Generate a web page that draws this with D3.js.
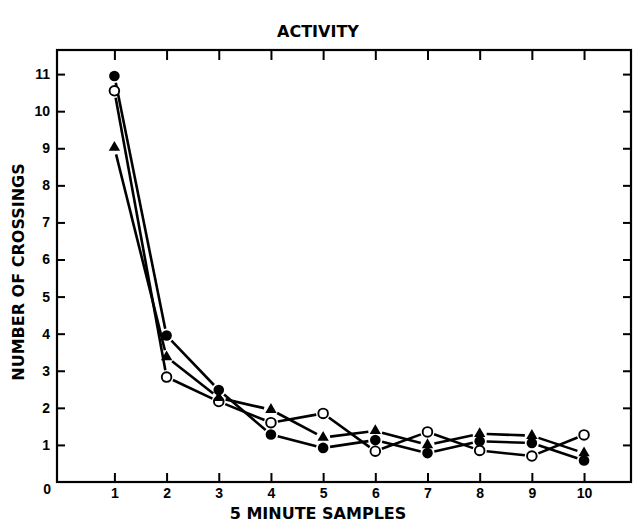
<!DOCTYPE html>
<html><head><meta charset="utf-8">
<script src="https://cdn.jsdelivr.net/npm/d3@7"></script>
<style>body{margin:0;background:#fff}svg{display:block}</style>
</head><body>
<script>
const samples = [1,2,3,4,5,6,7,8,9,10];
const filledCircle = [10.95, 3.95, 2.48, 1.28, 0.92, 1.13, 0.78, 1.1, 1.05, 0.58];
const openCircle   = [10.55, 2.83, 2.17, 1.6, 1.85, 0.83, 1.35, 0.85, 0.7, 1.27];
const triangle     = [9.02, 3.37, 2.27, 1.95, 1.2, 1.38, 1.0, 1.3, 1.25, 0.78];
const yTicks = [0,1,2,3,4,5,6,7,8,9,10,11];
const xTicks = [1,2,3,4,5,6,7,8,9,10];

const W = 634, H = 524;
const L = 57, R = 631, T = 50, B = 482;
const svg = d3.select("body").append("svg").attr("width", W).attr("height", H);
const x = d3.scaleLinear().domain([-0.1, 10.9]).range([L, R]);
const y = d3.scaleLinear().domain([0, 11.65]).range([B, T]);
const font = "'Liberation Sans', Arial, sans-serif";
const labelFont = "'DejaVu Sans', sans-serif";

// frame
svg.append("rect").attr("x", L).attr("y", T).attr("width", R - L).attr("height", B - T)
  .attr("fill", "none").attr("stroke", "#000").attr("stroke-width", 2.2);

// axes
const gx = svg.append("g").attr("transform", `translate(0,${B})`)
  .call(d3.axisBottom(x).tickValues(xTicks).tickSizeInner(-9).tickSizeOuter(0).tickPadding(6));
const gxt = svg.append("g").attr("transform", `translate(0,${T})`)
  .call(d3.axisTop(x).tickValues(xTicks).tickSizeInner(-10).tickSizeOuter(0).tickFormat(""));
const gy = svg.append("g").attr("transform", `translate(${L},0)`)
  .call(d3.axisLeft(y).tickValues(yTicks.filter(d => d > 0)).tickSizeInner(-8).tickSizeOuter(0).tickPadding(7));
const gyr = svg.append("g").attr("transform", `translate(${R},0)`)
  .call(d3.axisRight(y).tickValues(yTicks.filter(d => d > 0)).tickSizeInner(-8).tickSizeOuter(0).tickFormat(""));
[gx, gxt, gy, gyr].forEach(g => {
  g.select(".domain").remove();
  g.selectAll(".tick line").attr("stroke", "#000").attr("stroke-width", 2);
  g.selectAll("text").attr("font-family", font).attr("font-weight", "bold").attr("font-size", 14).attr("fill", "#000");
});
// zero label
svg.append("text").attr("x", L - 6).attr("y", y(0) + 12).attr("text-anchor", "end")
  .attr("font-family", font).attr("font-weight", "bold").attr("font-size", 14).text(yTicks[0]);

// titles
svg.append("text").attr("x", 318).attr("y", 37).attr("text-anchor", "middle")
  .attr("font-family", labelFont).attr("font-weight", "bold").attr("font-size", 16).text("ACTIVITY");
svg.append("text").attr("x", 318).attr("y", 519).attr("text-anchor", "middle")
  .attr("font-family", labelFont).attr("font-weight", "bold").attr("font-size", 16).text("5 MINUTE SAMPLES");
svg.append("text").attr("transform", `translate(24,272) rotate(-90)`).attr("text-anchor", "middle")
  .attr("font-family", labelFont).attr("font-weight", "bold").attr("font-size", 16).text("NUMBER OF CROSSINGS");

// series
const series = [
  {vals: filledCircle, type: "fc"},
  {vals: openCircle, type: "oc"},
  {vals: triangle, type: "tr"}
];
const gap = 7;
series.forEach(s => {
  const pts = samples.map((d, i) => [x(d), y(s.vals[i])]);
  const segs = d3.pairs(pts).map(([a, b]) => {
    const dx = b[0] - a[0], dy = b[1] - a[1], len = Math.hypot(dx, dy);
    const ux = dx / len, uy = dy / len;
    return [a[0] + ux * gap, a[1] + uy * gap, b[0] - ux * gap, b[1] - uy * gap];
  });
  svg.append("g").selectAll("line").data(segs).join("line")
    .attr("x1", d => d[0]).attr("y1", d => d[1]).attr("x2", d => d[2]).attr("y2", d => d[3])
    .attr("stroke", "#000").attr("stroke-width", 2.6).attr("stroke-linecap", "butt");
  const g = svg.append("g");
  if (s.type === "fc") {
    g.selectAll("circle").data(pts).join("circle").attr("cx", d => d[0]).attr("cy", d => d[1])
      .attr("r", 5.3).attr("fill", "#000");
  } else if (s.type === "oc") {
    g.selectAll("circle").data(pts).join("circle").attr("cx", d => d[0]).attr("cy", d => d[1])
      .attr("r", 4.8).attr("fill", "#fff").attr("stroke", "#000").attr("stroke-width", 1.9);
  } else {
    const sym = d3.symbol().type(d3.symbolTriangle).size(56);
    g.selectAll("path").data(pts).join("path").attr("transform", d => `translate(${d[0]},${d[1]})`)
      .attr("d", sym).attr("fill", "#000");
  }
});
</script>
</body></html>
